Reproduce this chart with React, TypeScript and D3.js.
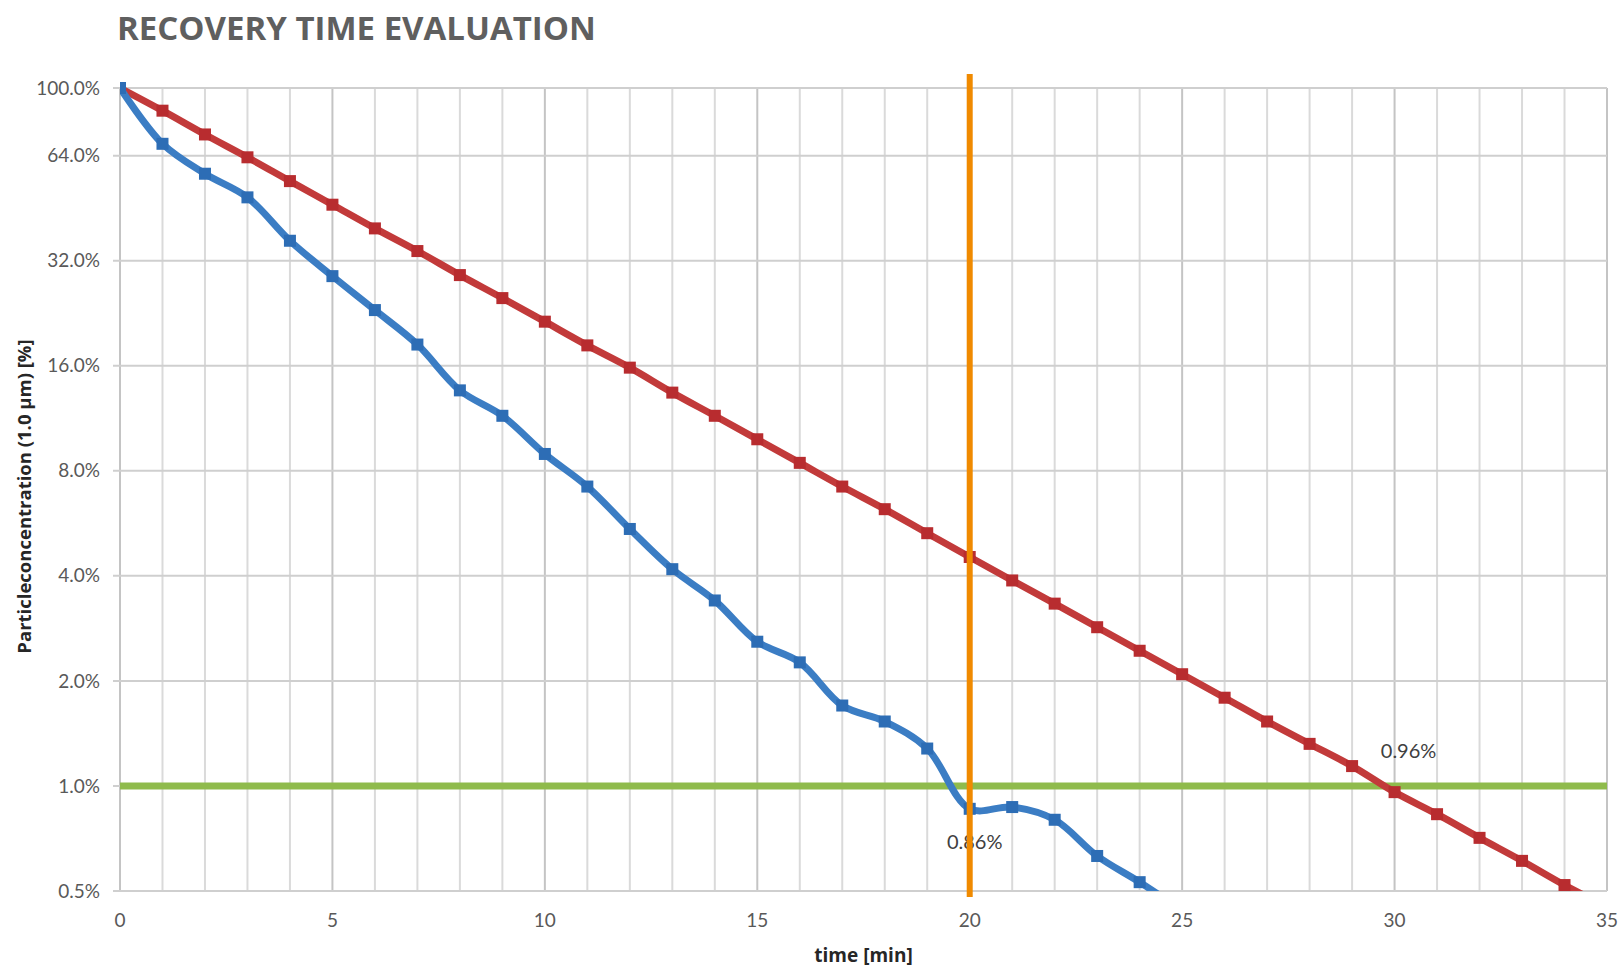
import React from 'react';
import * as d3 from 'd3';

// minutes on the x axis
const minutes = [0, 1, 2, 3, 4, 5, 6, 7, 8, 9, 10, 11, 12, 13, 14, 15, 16, 17, 18, 19, 20, 21, 22, 23, 24, 25, 26, 27, 28, 29, 30, 31, 32, 33, 34, 35];

// blue series (%)
const blueValues = [100, 69.2, 56.8, 48.6, 36.5, 28.9, 23.1, 18.4, 13.6, 11.5, 8.94, 7.21, 5.45, 4.18, 3.4, 2.59, 2.26, 1.7, 1.53, 1.28, 0.86, 0.87, 0.8, 0.63, 0.53, 0.44];

// red series (%)
const redValues = [100, 86.1, 73.6, 63.3, 54.1, 46.3, 39.6, 34.1, 29.1, 25.0, 21.4, 18.3, 15.8, 13.4, 11.5, 9.85, 8.43, 7.21, 6.21, 5.3, 4.53, 3.88, 3.33, 2.85, 2.44, 2.09, 1.79, 1.53, 1.32, 1.14, 0.96, 0.83, 0.71, 0.61, 0.52, 0.45];

const yTicks = [100, 64, 32, 16, 8, 4, 2, 1, 0.5];
const xTicks = [0, 5, 10, 15, 20, 25, 30, 35];

const thresholdValue = 1.0;
const markerTime = 20;

const annotations = [
    {t: 20, v: 0.86, label: '0.86%', dx: 5, dy: 40},
    {t: 30, v: 0.96, label: '0.96%', dx: 14, dy: -34},
];

const margin = {top: 88, right: 16, bottom: 79, left: 120};
const width = 1623;
const height = 970;

export default function App() {
    const innerW = width - margin.left - margin.right;
    const innerH = height - margin.top - margin.bottom;

    const x = d3.scaleLinear().domain([0, 35]).range([0, innerW]);
    const y = d3.scaleLog().base(2).domain([0.5, 100]).range([innerH, 0]);

    const blueData = blueValues.map((v, i) => ({t: minutes[i], v}));
    const redData = redValues.map((v, i) => ({t: minutes[i], v}));

    const line = d3.line<{t: number, v: number}>()
        .x(d => x(d.t))
        .y(d => y(d.v))
        .curve(d3.curveCatmullRom.alpha(0.5));

    const blue = '#3b7dc4';
    const blueMark = '#2d6db5';
    const red = '#c23a3a';
    const redMark = '#b82c2f';
    const ms = 12;

    return (
        <svg width={width} height={height} style={{position: 'absolute', left: 0, top: 0, background: '#fff'}}>
            <defs>
                <clipPath id="plot-clip">
                    <rect x={0} y={-10} width={innerW + 2} height={innerH + 10} />
                </clipPath>
            </defs>
            <text x={117} y={40} fontFamily="'Open Sans', sans-serif" fontWeight={700} fontSize={33}
                  fill="#5f5f5f">RECOVERY TIME EVALUATION</text>

            <g transform={`translate(${margin.left},${margin.top})`}>
                {/* vertical grid, every minute */}
                {d3.range(0, 36).map(m => (
                    <line key={'vx' + m} x1={x(m)} x2={x(m)} y1={0} y2={innerH}
                          stroke={m % 5 === 0 ? '#c4c4c4' : '#dadada'} strokeWidth={2} />
                ))}
                {/* horizontal grid */}
                {yTicks.map(t => (
                    <line key={'hy' + t} x1={-7} x2={innerW} y1={y(t)} y2={y(t)}
                          stroke="#cfcfcf" strokeWidth={2} />
                ))}
                {yTicks.map(t => (
                    <text key={'ly' + t} x={-20} y={y(t)} dy="0.35em" textAnchor="end"
                          fontFamily="Lato, sans-serif" fontSize={19} fill="#595959">
                        {t.toFixed(1) + '%'}
                    </text>
                ))}
                {xTicks.map(t => (
                    <text key={'lx' + t} x={x(t)} y={innerH + 36} textAnchor="middle"
                          fontFamily="Lato, sans-serif" fontSize={19} fill="#595959">{t}</text>
                ))}

                {/* threshold */}
                <line x1={0} x2={innerW} y1={y(thresholdValue)} y2={y(thresholdValue)}
                      stroke="#8fbb4c" strokeWidth={7} />

                <g clipPath="url(#plot-clip)">
                    <path d={line(redData) || ''} fill="none" stroke={red} strokeWidth={7} />
                    {redData.filter(d => d.v >= 0.5).map(d => (
                        <rect key={'rm' + d.t} x={x(d.t) - ms / 2} y={y(d.v) - ms / 2} width={ms} height={ms}
                              fill={redMark} />
                    ))}
                    <path d={line(blueData) || ''} fill="none" stroke={blue} strokeWidth={7} />
                    {blueData.filter(d => d.v >= 0.5).map(d => (
                        <rect key={'bm' + d.t} x={x(d.t) - ms / 2} y={y(d.v) - ms / 2} width={ms} height={ms}
                              fill={blueMark} />
                    ))}
                </g>

                {annotations.map(a => (
                    <text key={a.label} x={x(a.t) + a.dx} y={y(a.v) + a.dy} textAnchor="middle"
                          fontFamily="Lato, sans-serif" fontSize={20} fill="#404040">{a.label}</text>
                ))}

                {/* 20 min marker */}
                <line x1={x(markerTime)} x2={x(markerTime)} y1={-14} y2={innerH + 6}
                      stroke="#f08a00" strokeWidth={6} />

                <text x={x(17.5)} y={innerH + 71} textAnchor="middle" fontFamily="'Open Sans', sans-serif"
                      fontWeight={700} fontSize={19} fill="#262626">time [min]</text>
                <text transform={`translate(${-89},${innerH / 2 + 7}) rotate(-90)`} textAnchor="middle"
                      fontFamily="'Open Sans', sans-serif" fontWeight={700} fontSize={18.5}
                      fill="#262626">Particleconcentration (1.0 µm)  [%]</text>
            </g>
        </svg>
    );
}
